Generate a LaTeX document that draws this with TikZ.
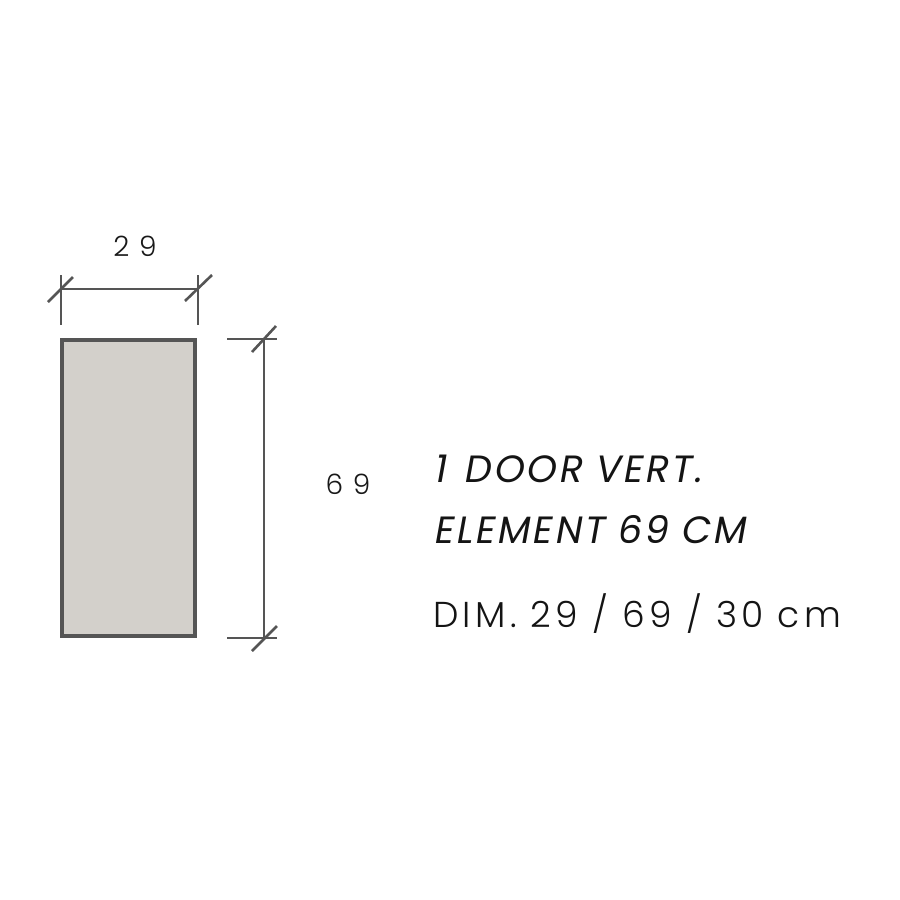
\documentclass[tikz,border=0pt]{standalone}
\usepackage{fontspec}
\usetikzlibrary{calc}
\setmainfont{Poppins}
\newfontfamily\thinfont{Poppins Light}[LetterSpace=12]
\newfontfamily\titlefont{Poppins}[LetterSpace=7,FakeSlant=0.18]
\definecolor{boxfill}{HTML}{D3D0CB}
\definecolor{boxline}{HTML}{555555}
\definecolor{dimline}{HTML}{555555}
\begin{document}
\begin{tikzpicture}[x=1pt,y=-1pt,
  dimln/.style={draw=dimline,line width=2.6pt},
  extln/.style={draw=dimline,line width=1.3pt},
  tickln/.style={draw=dimline,line width=2.6pt},
  dimlabel/.style={font=\thinfont\fontsize{28}{30}\selectfont,text=black!90,inner sep=0pt},
  titletext/.style={font=\titlefont\fontsize{38}{42}\selectfont,text=black!92,inner sep=0pt,anchor=base west},
  subtext/.style={font=\thinfont\fontsize{36}{40}\selectfont,text=black!92,inner sep=0pt,anchor=base west}]
\useasboundingbox[fill=white] (0,0) rectangle (900,900);
% box
\node[draw=boxline,fill=boxfill,line width=3.5pt,minimum width=133pt,minimum height=296pt,inner sep=0pt] (box) at (128.5,488) {};
% top dimension
\coordinate (tl1) at (61,275); \coordinate (tl2) at (61,325);
\coordinate (tr1) at (198,275); \coordinate (tr2) at (198,325);
\draw[extln] (tl1) -- (tl2);
\draw[extln] (tr1) -- (tr2);
\coordinate (ha) at (61,289); \coordinate (hb) at (198,289);
\draw[dimln] (ha) -- (hb);
\draw[tickln] ($(ha)+(-13,13)$) -- ($(ha)+(12,-12)$);
\draw[tickln] ($(hb)+(-13,12)$) -- ($(hb)+(14,-14)$);
\node[dimlabel] (w) at (135,246) {2\hspace{0.35em}9};
% right dimension
\coordinate (et1) at (227,339); \coordinate (et2) at (277,339);
\coordinate (eb1) at (227,638); \coordinate (eb2) at (277,638);
\draw[extln] (et1) -- (et2);
\draw[extln] (eb1) -- (eb2);
\coordinate (va) at (264,339); \coordinate (vb) at (264,638);
\draw[dimln] (va) -- (vb);
\draw[tickln] ($(va)+(-12,13)$) -- ($(va)+(12,-13)$);
\draw[tickln] ($(vb)+(-12,13)$) -- ($(vb)+(13,-12)$);
\node[dimlabel] (h) at (348,484) {6\hspace{0.35em}9};
% texts
\node[titletext] (t1) at (433,482) {1\hspace{0.15em} DOOR VERT.};
\node[titletext] (t2) at (433,543) {ELEMENT 69 CM};
\node[subtext] (t3) at (433,627) {DIM. 29 / 69 / 30 cm};
\end{tikzpicture}
\end{document}
